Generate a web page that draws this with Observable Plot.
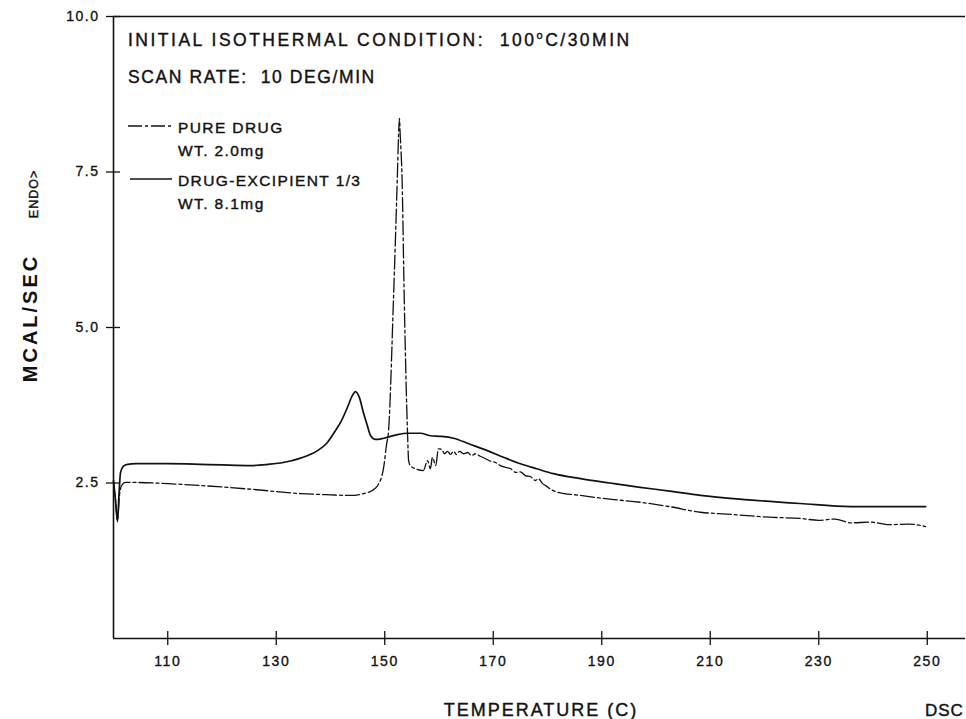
<!DOCTYPE html>
<html>
<head>
<meta charset="utf-8">
<script src="https://cdn.jsdelivr.net/npm/d3@7"></script>
<script src="https://cdn.jsdelivr.net/npm/@observablehq/plot@0.6"></script>
<style>
  html, body { margin: 0; padding: 0; background: #fff; }
  #chart { width: 966px; height: 719px; }
</style>
</head>
<body>
<div id="chart"></div>
<script>
// ---- Data ----
const xTicks = [110, 130, 150, 170, 190, 210, 230, 250];
const yTicks = [2.5, 5.0, 7.5, 10.0];

// Drug-excipient 1/3 (solid)
const excTemp = [100.0, 100.37, 100.74, 101.0, 101.3, 101.84, 102.6, 104.1, 110, 116.0, 120, 125.3, 128.5, 131.3, 134.5, 137.6, 139.3, 140.6, 142.0, 143.1, 144.0, 144.6, 145.3, 146.1, 146.8, 147.4, 148.3, 149.8, 152.0, 154.2, 156.6, 158.4, 160.5, 162.7, 165.5, 168.9, 172.0, 175.0, 178.0, 181.1, 186.1, 191.5, 197.1, 202.5, 208.2, 217.0, 226.6, 235.9, 243.0, 249.7];
const excMcal = [2.54, 2.22, 1.88, 2.30, 2.67, 2.77, 2.80, 2.81, 2.81, 2.80, 2.79, 2.78, 2.80, 2.83, 2.90, 3.02, 3.14, 3.30, 3.50, 3.71, 3.90, 3.97, 3.88, 3.62, 3.42, 3.26, 3.20, 3.22, 3.27, 3.30, 3.30, 3.26, 3.25, 3.22, 3.13, 3.02, 2.91, 2.81, 2.73, 2.65, 2.57, 2.50, 2.43, 2.37, 2.30, 2.23, 2.17, 2.12, 2.12, 2.12];

// Pure drug (dash-dot)
const pureTemp = [100.0, 100.37, 100.74, 101.1, 101.5, 102.2, 103.1, 110, 116.0, 125.3, 134.5, 140, 143.7, 146.1, 147.7, 148.7, 149.8, 150.3, 150.7, 151.6, 152.3, 152.55, 152.7, 152.85, 153.2, 153.6, 154.2, 154.4, 154.7, 155.9, 157.1, 157.9, 158.4, 158.8, 159.4, 159.9, 160.5, 161.0, 161.6, 162.1, 162.7, 163.2, 163.8, 164.5, 165.3, 166.0, 166.7, 167.6, 168.6, 169.5, 170.4, 171.3, 172.3, 173.2, 174.1, 175.0, 175.9, 176.9, 177.8, 178.3, 179.1, 179.8, 180.6, 181.5, 186.1, 191.5, 197.1, 202.5, 208.2, 213.0, 217.5, 221.0, 226.6, 230.0, 233.0, 235.9, 239.5, 243.0, 246.5, 249.7];
const pureMcal = [2.51, 2.22, 1.90, 2.30, 2.46, 2.51, 2.51, 2.49, 2.46, 2.40, 2.33, 2.31, 2.30, 2.33, 2.38, 2.46, 2.75, 3.10, 3.34, 5.43, 7.36, 8.10, 8.36, 8.10, 7.36, 5.43, 3.30, 2.86, 2.78, 2.72, 2.70, 2.86, 2.73, 2.91, 2.78, 3.05, 3.04, 2.97, 3.01, 2.96, 3.01, 2.96, 3.01, 2.97, 2.99, 2.94, 2.97, 2.93, 2.89, 2.85, 2.83, 2.78, 2.75, 2.73, 2.67, 2.68, 2.62, 2.60, 2.54, 2.57, 2.49, 2.45, 2.40, 2.36, 2.30, 2.24, 2.19, 2.12, 2.03, 2.00, 1.97, 1.95, 1.93, 1.90, 1.92, 1.86, 1.87, 1.83, 1.84, 1.80];

// Texts
const header1a = "INITIAL ISOTHERMAL CONDITION:  100";
const header1b = "o";
const header1c = "C/30MIN";
const header2 = "SCAN RATE:  10 DEG/MIN";
const legendNames = ["PURE DRUG", "DRUG-EXCIPIENT 1/3"];
const legendWeights = ["WT. 2.0mg", "WT. 8.1mg"];
const yLabel = "MCAL/SEC";
const yLabel2 = "ENDO>";
const xLabel = "TEMPERATURE (C)";
const corner = "DSC";

const excData = excTemp.map((t, i) => ({t, v: excMcal[i]}));
const pureData = pureTemp.map((t, i) => ({t, v: pureMcal[i]}));

const W = 966, H = 719;
const mL = 113, mR = 1, mT = 16, mB = 81;
const innerW = W - mL - mR, innerH = H - mT - mB;
const FONT = "'Liberation Sans', Arial, Helvetica, sans-serif";
const INK = "#111";

const chart = Plot.plot({
  width: W,
  height: H,
  marginLeft: mL,
  marginRight: mR,
  marginTop: mT,
  marginBottom: mB,
  style: {fontFamily: FONT, color: INK, background: "#fff", overflow: "visible"},
  x: {domain: [100, 257.05]},
  y: {domain: [0, 10]},
  marks: [
    Plot.ruleY([0], {stroke: INK, strokeWidth: 1.6}),
    Plot.ruleY([10], {stroke: INK, strokeWidth: 1.4}),
    Plot.ruleX([100], {stroke: INK, strokeWidth: 1.6}),
    Plot.tickX(xTicks, {x: d => d, stroke: INK, strokeWidth: 1.3, insetTop: innerH - 7, insetBottom: -7}),
    Plot.tickY(yTicks, {y: d => d, stroke: INK, strokeWidth: 1.3, insetLeft: -7, insetRight: innerW - 7}),
    Plot.axisX(xTicks, {tickSize: 0, tickPadding: 18, fontSize: 14, label: null, tickFormat: d => String(d), fill: INK}),
    Plot.axisY(yTicks, {tickSize: 0, tickPadding: 14, fontSize: 14, label: null, tickFormat: d3.format(".1f"), fill: INK}),
    Plot.line(excData, {x: "t", y: "v", stroke: INK, strokeWidth: 1.7, curve: "monotone-x"}),
    Plot.line(pureData, {x: "t", y: "v", stroke: INK, strokeWidth: 1.3, strokeDasharray: "14,3,3,3", curve: "monotone-x"})
  ]
});

document.getElementById("chart").appendChild(chart);

// ---- Annotations (text as real SVG text) ----
const svg = d3.select(chart);
svg.selectAll("g[aria-label='x-axis tick label'] text, g[aria-label='y-axis tick label'] text")
  .style("letter-spacing", "1.5px")
  .attr("stroke", INK).attr("stroke-width", 0.35);

const ann = svg.append("g")
  .attr("font-family", FONT)
  .attr("fill", INK)
  .attr("text-anchor", "start")
  .attr("stroke", INK)
  .attr("stroke-width", 0.4)
  .style("white-space", "pre");

const h1 = ann.append("text").attr("x", 128).attr("y", 46).attr("font-size", 17.5).style("letter-spacing", "2.5px");
h1.append("tspan").text(header1a);
h1.append("tspan").attr("font-size", 11).attr("dy", -7).text(header1b);
h1.append("tspan").attr("dy", 7).text(header1c);

ann.append("text").attr("x", 128).attr("y", 83).attr("font-size", 17.5).style("letter-spacing", "1.6px").text(header2);

// legend
const legY = [126, 179];
ann.append("line").attr("x1", 128).attr("x2", 172).attr("y1", legY[0]).attr("y2", legY[0])
  .attr("stroke", INK).attr("stroke-width", 1.3).attr("stroke-dasharray", "14,3,3,3");
ann.append("line").attr("x1", 130).attr("x2", 172).attr("y1", legY[1]).attr("y2", legY[1])
  .attr("stroke", INK).attr("stroke-width", 1.7);
legendNames.forEach((n, i) => {
  ann.append("text").attr("x", 178).attr("y", legY[i] + 7).attr("font-size", 15.5).style("letter-spacing", "1.4px").text(n);
  ann.append("text").attr("x", 178).attr("y", legY[i] + 30).attr("font-size", 15.5).style("letter-spacing", "1.4px").text(legendWeights[i]);
});

// y labels (rotated)
ann.append("text").attr("transform", "translate(37,318) rotate(-90)").attr("text-anchor", "middle")
  .attr("font-size", 20).attr("font-weight", "bold").attr("stroke-width", 0).style("letter-spacing", "3px").text(yLabel);
ann.append("text").attr("transform", "translate(38,194) rotate(-90)").attr("text-anchor", "middle")
  .attr("font-size", 12.5).style("letter-spacing", "1px").text(yLabel2);

// x label & corner
ann.append("text").attr("x", 541).attr("y", 716).attr("text-anchor", "middle")
  .attr("font-size", 18).style("letter-spacing", "2px").text(xLabel);
ann.append("text").attr("x", 925).attr("y", 716)
  .attr("font-size", 17).style("letter-spacing", "1px").text(corner);
</script>
</body>
</html>
